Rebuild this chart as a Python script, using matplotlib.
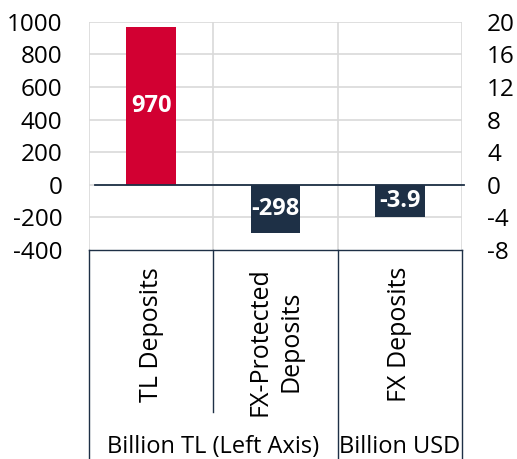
import matplotlib
matplotlib.use("Agg")
import matplotlib.pyplot as plt
import matplotlib.transforms as mtransforms
import numpy as np

plt.rcParams["font.family"] = ["Open Sans", "DejaVu Sans"]
plt.rcParams["font.size"] = 17.5
plt.rcParams["axes.unicode_minus"] = False

CATEGORIES = ["TL Deposits", "FX-Protected\nDeposits", "FX Deposits"]
LEFT_VALUES = [970, -298]        # billion TL
RIGHT_VALUES = [-3.9]            # billion USD
LEFT_COLORS = ["#D20032", "#1E3046"]
RIGHT_COLORS = ["#1E3046"]
LEFT_TICKS = [-400, -200, 0, 200, 400, 600, 800, 1000]
RIGHT_TICKS = [-8, -4, 0, 4, 8, 12, 16, 20]
GROUPS = [("Billion TL (Left Axis)", 0.5), ("Billion USD", 2.0)]

NAVY = "#1E3046"
GRID = "#D9D9D9"

W, H = 517, 459
fig = plt.figure(figsize=(W / 100, H / 100), dpi=100)
left, right, top, bottom = 89, 462, 21.7, 250
ax = fig.add_axes([left / W, 1 - bottom / H, (right - left) / W, (bottom - top) / H])
ax2 = ax.twinx()

x_left = np.arange(len(LEFT_VALUES))
x_right = np.arange(len(RIGHT_VALUES)) + len(LEFT_VALUES)
bw = 0.4

bars1 = ax.bar(x_left, LEFT_VALUES, bw, color=LEFT_COLORS, zorder=3)
bars2 = ax2.bar(x_right, RIGHT_VALUES, bw, color=RIGHT_COLORS, zorder=3)

for a, bars, vals, fmt in [(ax, bars1, LEFT_VALUES, "{:.0f}"), (ax2, bars2, RIGHT_VALUES, "{:.1f}")]:
    for b, v in zip(bars, vals):
        a.text(b.get_x() + b.get_width() / 2, v / 2, fmt.format(v), ha="center", va="center",
               color="white", fontweight="bold", fontsize=17, zorder=4)

for a in (ax, ax2):
    a.set_xlim(-0.5, 2.5)
    for s in a.spines.values():
        s.set_visible(False)
    a.tick_params(length=0)
    a.set_xticks([])

ax.set_ylim(-400, 1000)
ax.set_yticks(LEFT_TICKS)
ax.tick_params(axis="y", pad=19)
ax2.set_ylim(-8, 20)
ax2.set_yticks(RIGHT_TICKS)
ax2.tick_params(axis="y", pad=18)
for lab in ax2.get_yticklabels():
    lab.set_horizontalalignment("left")

# light grid
for t in LEFT_TICKS[1:]:
    ax.axhline(t, color=GRID, lw=1.2, zorder=0)
for xv in [-0.5, 0.5, 1.5, 2.5]:
    ax.axvline(xv, color=GRID, lw=1.2, zorder=0)
ax2.set_zorder(ax.get_zorder() + 1)
ax2.patch.set_visible(False)

# zero line
ax.axhline(0, xmin=0.016, xmax=1.005, color=NAVY, lw=1.3, zorder=5, clip_on=False)

# category box below the plot
tr = mtransforms.blended_transform_factory(ax.transData, ax.transAxes)
h_ax = bottom - top
y_fig_bottom = -(H - bottom) / h_ax
y_mid_line = -(412 - bottom) / h_ax
ax.plot([-0.5, 2.5], [0, 0], color=NAVY, lw=1, transform=tr, clip_on=False)
for xv in [-0.5, 1.5, 2.5]:
    ax.plot([xv, xv], [0, y_fig_bottom], color=NAVY, lw=1, transform=tr, clip_on=False)
ax.plot([0.5, 0.5], [0, y_mid_line], color=NAVY, lw=1, transform=tr, clip_on=False)

y_cat_top = -(267 - bottom) / h_ax
for i, c in enumerate(CATEGORIES):
    ax.text(i, y_cat_top, c, rotation=90, ha="center", va="top", multialignment="center",
            fontsize=18, transform=tr, linespacing=1.3)

y_grp = -(447 - bottom) / h_ax
for g, xv in GROUPS:
    ax.text(xv, y_grp, g, ha="center", va="center", fontsize=17, transform=tr)

fig.savefig("out.png", dpi=100)
